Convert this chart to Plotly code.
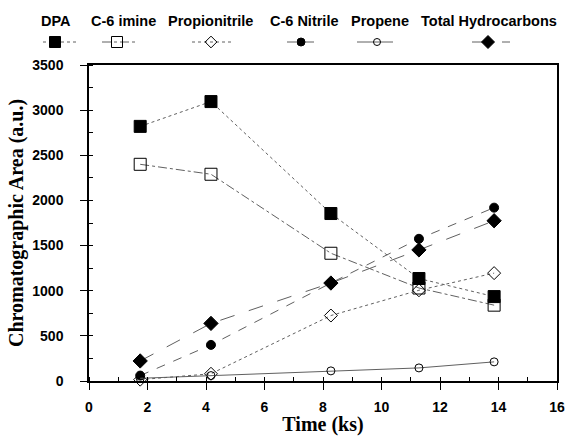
import plotly.graph_objects as go

time_ks = [1.75, 4.17, 8.27, 11.28, 13.85]
dpa = [2820, 3095, 1855, 1135, 935]
c6_imine = [2400, 2290, 1415, 1030, 840]
propionitrile = [15, 80, 725, 1005, 1195]
c6_nitrile = [60, 400, 1085, 1575, 1920]
propene = [30, 60, 112, 145, 212]
total_hc = [222, 638, 1085, 1452, 1775]

series_names = ["DPA", "C-6 imine", "Propionitrile", "C-6 Nitrile", "Propene", "Total Hydrocarbons"]
series_values = [dpa, c6_imine, propionitrile, c6_nitrile, propene, total_hc]
symbols = ["square", "square-open", "diamond-open", "circle", "circle-open", "diamond"]
sizes = [12, 12, 10, 9, 8, 11]
dashes = ["dot", "dashdot", "dot", "dash", "solid", "longdash"]

x_ticks = [0, 2, 4, 6, 8, 10, 12, 14, 16]
y_ticks = [0, 500, 1000, 1500, 2000, 2500, 3000, 3500]

# legend layout (pixel placement only)
legend_text_x = [56, 123, 210, 304, 380, 489]
legend_sym_x = [55, 117, 211, 301, 377, 488]
legend_line_left = [12, 15, 19, 14, 20, 16]
legend_line_right = [22, 20, 22, 17, 16, 22]

W, H = 567, 436
PL, PR, PT, PB = 89, 557, 65, 381  # plot area pixel box

fig = go.Figure()
for name, vals, sym, sz, dash in zip(series_names, series_values, symbols, sizes, dashes):
    fig.add_trace(go.Scatter(
        x=time_ks, y=vals, name=name, mode="lines+markers",
        line=dict(color="#606060", width=1, dash=dash),
        marker=dict(symbol=sym, size=sz, color="black",
                    line=dict(color="black", width=1)),
        showlegend=False, cliponaxis=False,
    ))

# custom legend keys on an auxiliary pixel-scaled axis covering the whole page
for name, sym, sz, dash, tx, sx, ll, lr in zip(series_names, symbols, sizes, dashes,
                                               legend_text_x, legend_sym_x,
                                               legend_line_left, legend_line_right):
    fig.add_trace(go.Scatter(
        x=[sx - ll, sx, sx + lr], y=[42, 42, 42], xaxis="x2", yaxis="y2",
        mode="lines", line=dict(color="#606060", width=1, dash=dash),
        showlegend=False, hoverinfo="skip",
    ))
    fig.add_trace(go.Scatter(
        x=[sx], y=[42], xaxis="x2", yaxis="y2", mode="markers",
        marker=dict(symbol=sym, size=sz - 1, color="black", line=dict(color="black", width=1)),
        showlegend=False, hoverinfo="skip",
    ))
    fig.add_annotation(x=tx, y=21, xref="x2", yref="y2", text=name, showarrow=False,
                       font=dict(family="Liberation Sans", size=14.5, color="black", weight="bold"),
                       xanchor="center", yanchor="middle")

tick_font = dict(family="Liberation Sans", size=14, color="black", weight="bold")
title_font = dict(family="Liberation Serif", size=20, color="black", weight="bold")

fig.update_layout(
    template="none",
    width=W, height=H,
    margin=dict(l=0, r=0, t=0, b=0, pad=0),
    paper_bgcolor="white", plot_bgcolor="rgba(0,0,0,0)",
    xaxis=dict(
        domain=[PL / W, PR / W], automargin=False,
        range=[0, 16], tickvals=x_ticks, ticktext=[str(v) for v in x_ticks],
        showgrid=False, zeroline=False, showline=True, linecolor="black", linewidth=1.5,
        mirror=True, ticks="outside", ticklen=7, tickwidth=1.2, tickcolor="black",
        minor=dict(dtick=1, ticks="inside", ticklen=4, tickcolor="black", tickwidth=1, showgrid=False),
        tickfont=tick_font, ticklabelstandoff=5,
        title=dict(text="Time (ks)", font=title_font, standoff=7),
    ),
    yaxis=dict(
        domain=[(H - PB) / H, (H - PT) / H], automargin=False,
        range=[0, 3500], tickvals=y_ticks, ticktext=[str(v) for v in y_ticks],
        showgrid=False, zeroline=False, showline=True, linecolor="black", linewidth=1.5,
        mirror=True, ticks="outside", ticklen=7, tickwidth=1.2, tickcolor="black",
        minor=dict(dtick=250, ticks="inside", ticklen=4, tickcolor="black", tickwidth=1, showgrid=False),
        tickfont=tick_font, ticklabelstandoff=14,
        title=dict(text="Chromatographic Area (a.u.)", font=title_font, standoff=3),
    ),
    xaxis2=dict(domain=[0, 1], range=[0, W], anchor="y2", automargin=False,
                visible=False, fixedrange=True),
    yaxis2=dict(domain=[0, 1], range=[H, 0], anchor="x2", automargin=False,
                visible=False, fixedrange=True),
    showlegend=False,
)

fig.write_html("out.html")
